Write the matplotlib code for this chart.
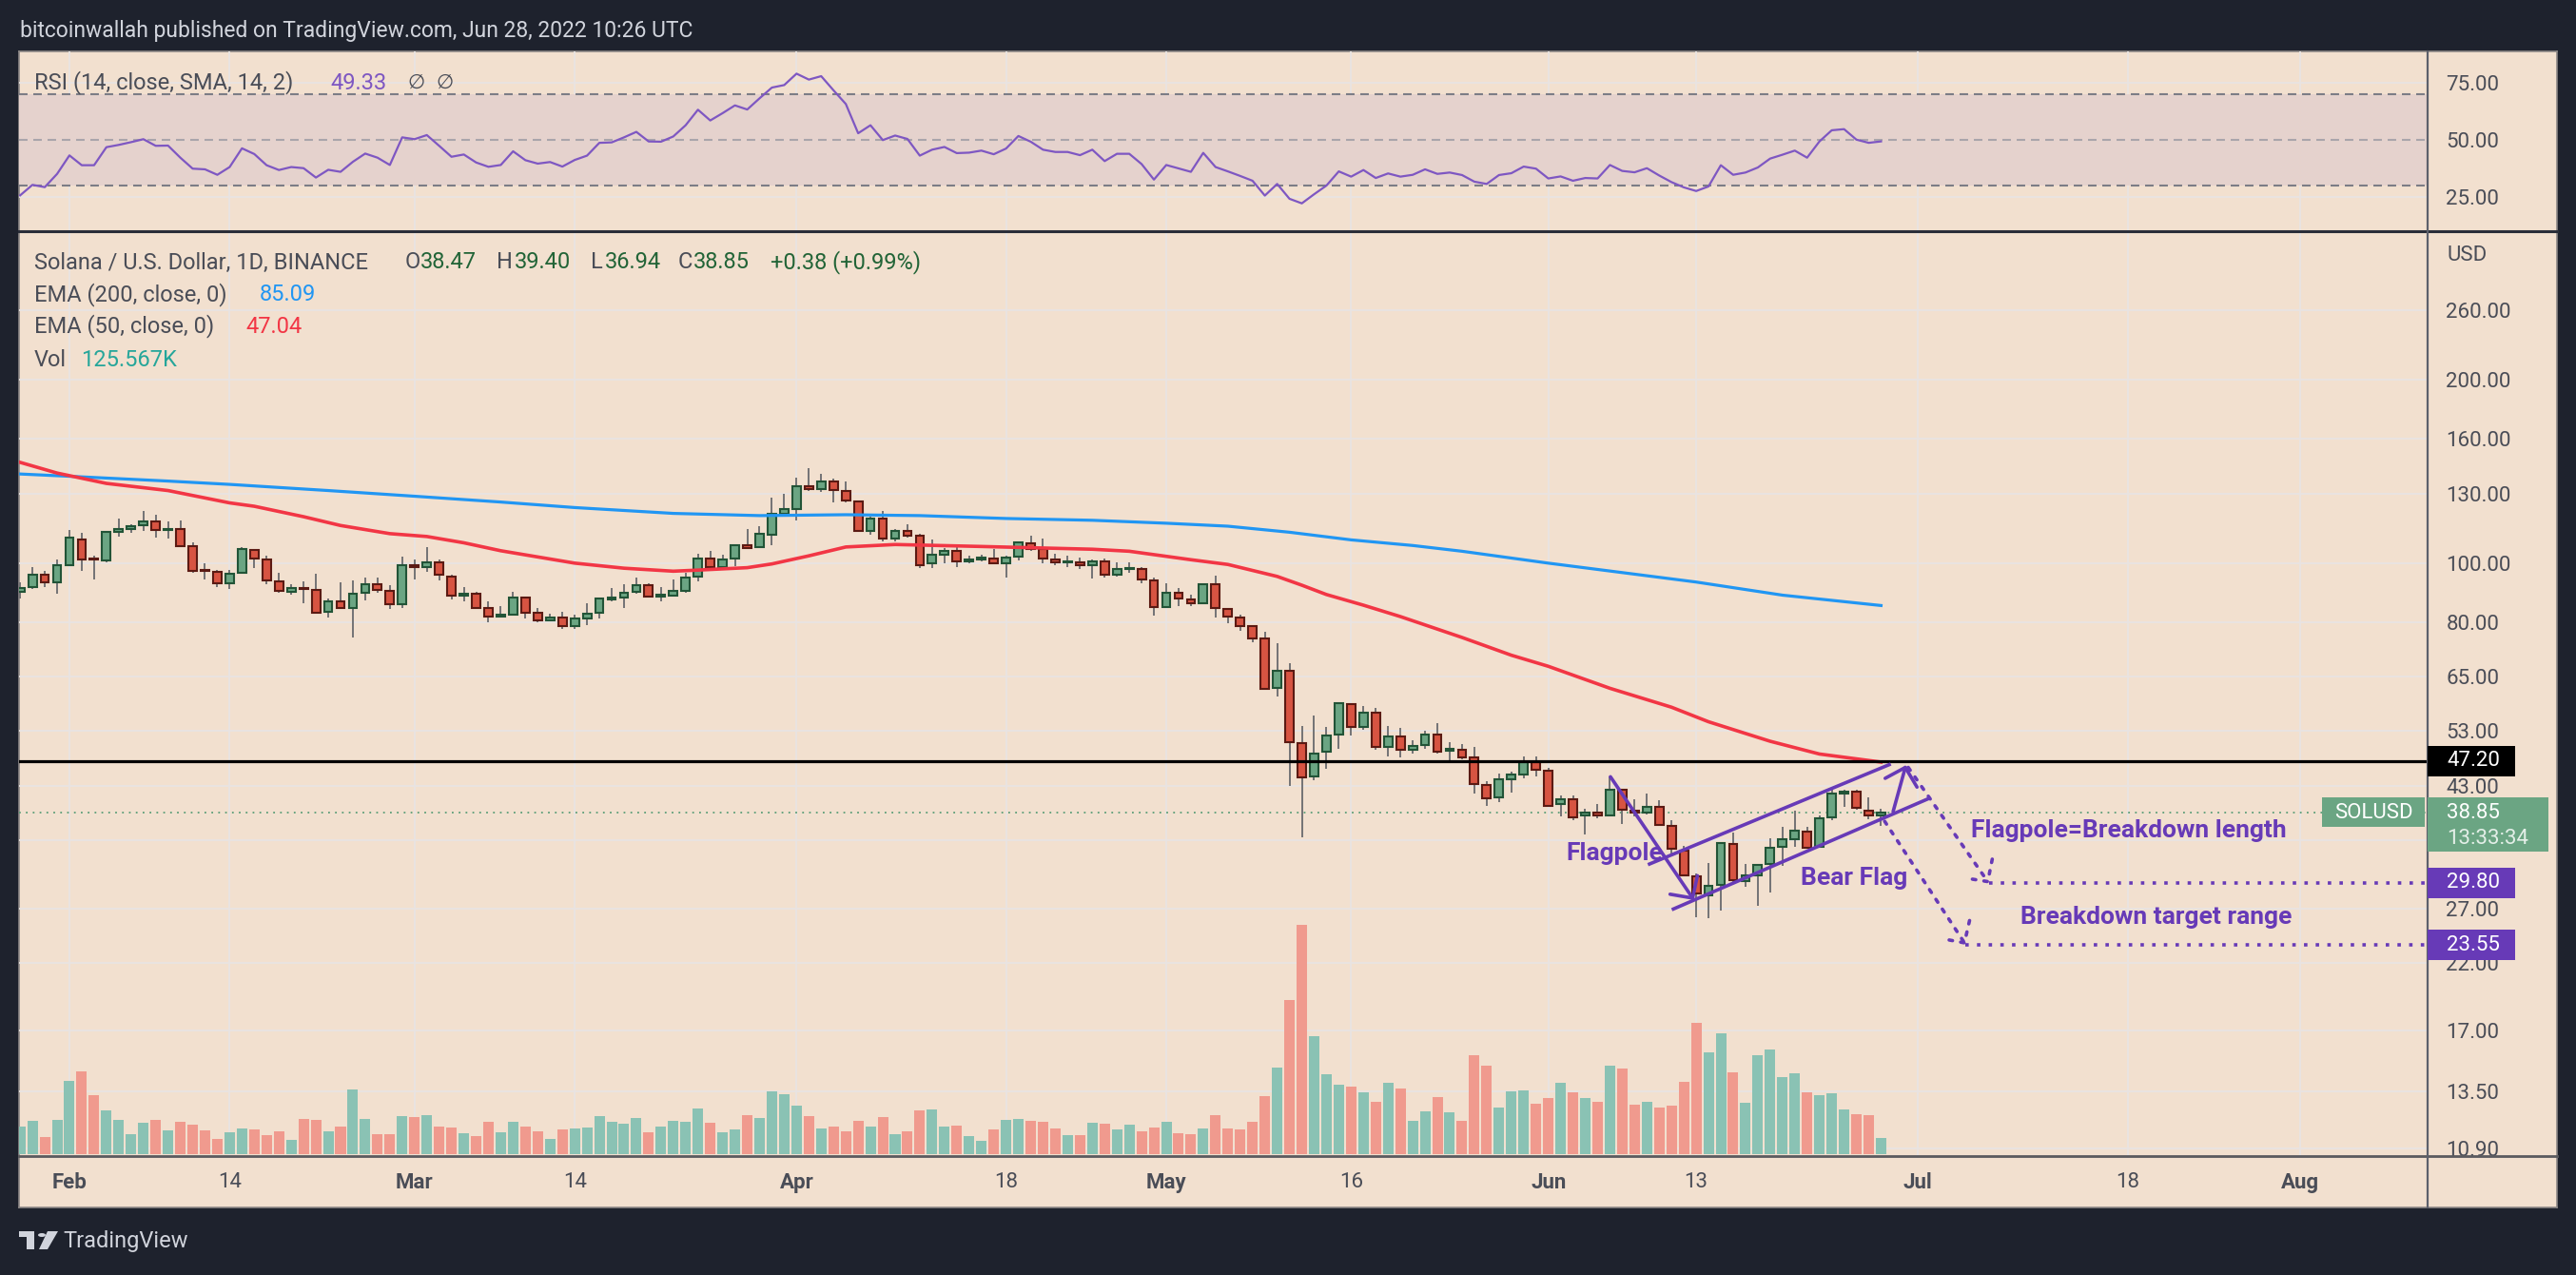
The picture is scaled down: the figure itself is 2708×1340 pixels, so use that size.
import numpy as np
import pandas as pd
import matplotlib
matplotlib.use('Agg')
import matplotlib.pyplot as plt
import matplotlib.dates as mdates
import matplotlib.transforms as mtransforms
from matplotlib.patches import Rectangle, Polygon, Circle
from matplotlib.lines import Line2D

plt.rcParams['font.family'] = ['Roboto', 'DejaVu Sans']

# ---------------- data (SOL/USD daily, Binance) ----------------
dates = pd.date_range('2022-01-28', '2022-06-28', freq='D')

opens = [
    89.5, 91.2, 95.7, 93.0,
    99.2, 109.3, 101.7, 101.0, 112.5, 113.7, 115.3, 117.2, 113.1, 113.5, 106.4, 97.3, 96.8, 92.7,
    96.2, 104.9, 101.4, 93.4, 89.5, 91.0, 90.4, 83.1, 86.3, 84.3, 89.3, 92.4, 90.1, 85.5,
    99.2, 98.3, 100.3, 95.0, 88.3, 89.1, 84.4, 81.6, 82.2, 87.8, 82.8, 80.5, 81.2, 78.7, 81.0, 82.8,
    87.2, 87.7, 89.5, 92.0, 88.0, 88.3, 90.1, 94.9, 101.7, 98.3, 101.6, 106.8, 106.0, 111.3, 120.4,
    122.6, 133.6, 132.2, 136.3, 131.5, 126.4, 112.9, 118.1, 109.7, 112.7, 110.7, 99.7, 103.2, 104.5, 100.5,
    101.2, 101.7, 99.7, 102.5, 107.7, 105.3, 101.4, 100.1, 100.1, 99.05, 100.7, 95.6, 97.6, 97.6, 93.5,
    84.6, 89.3, 87.2, 85.8, 92.2, 84.0, 81.3, 78.6, 75.2, 62.3, 66.4, 50.6, 44.5, 48.9, 52.2, 58.5,
    53.8, 56.7, 49.9, 51.9, 49.3, 50.1, 52.3, 49.1, 49.2, 47.8, 43.2, 41.2, 44.1, 44.8, 47.1,
    45.6, 40.1, 40.8, 38.4, 38.9, 38.4, 42.3, 39.1, 38.9, 39.7, 37.0, 33.7, 30.5, 28.45,
    29.5, 34.5, 30.0, 30.6, 32.0, 34.1, 35.1, 36.2, 34.1, 38.2, 41.8, 42.1, 39.2, 38.47,
]
highs = [
    93.0, 98.5, 97.1, 101.2,
    113.3, 112.1, 102.8, 112.5, 118.3, 115.8, 121.7, 120.0, 117.0, 117.4, 107.9, 99.9, 97.3, 97.5,
    106.0, 105.5, 102.7, 96.2, 92.4, 93.4, 95.9, 87.4, 93.0, 93.7, 94.7, 94.7, 92.0, 102.5,
    101.4, 106.0, 101.4, 95.6, 91.2, 89.7, 86.3, 84.8, 89.6, 88.1, 84.3, 82.5, 83.1, 82.2, 85.8, 87.6,
    90.9, 92.2, 94.5, 92.5, 91.2, 93.9, 96.2, 103.4, 104.7, 103.2, 107.4, 113.7, 115.1, 128.0, 129.8,
    138.0, 143.0, 140.2, 137.7, 136.0, 126.8, 119.3, 121.9, 113.5, 115.6, 111.7, 109.1, 105.8, 107.2, 102.7,
    103.2, 105.3, 102.7, 108.3, 110.9, 109.7, 103.4, 102.7, 101.9, 101.2, 101.6, 100.3, 100.3, 98.3, 94.7,
    92.7, 90.9, 88.5, 92.7, 95.2, 84.4, 82.3, 79.0, 77.1, 73.8, 68.4, 53.9, 56.1, 53.8, 59.1, 58.6,
    58.2, 57.7, 54.0, 53.6, 51.0, 53.0, 54.5, 50.8, 50.3, 49.8, 43.7, 45.0, 45.4, 48.1, 48.1,
    46.0, 41.5, 41.4, 39.4, 40.1, 44.5, 42.4, 40.9, 41.8, 40.7, 37.8, 34.2, 30.9, 32.1,
    34.7, 36.0, 32.0, 32.0, 35.3, 36.8, 39.1, 36.8, 38.5, 42.8, 42.4, 42.4, 41.2, 39.40,
]
lows = [
    87.4, 90.5, 91.4, 88.9,
    99.0, 97.1, 93.9, 100.3, 110.3, 111.9, 112.7, 109.9, 109.5, 106.4, 96.2, 93.9, 91.4, 90.7,
    96.1, 98.2, 92.2, 89.4, 88.8, 85.7, 82.6, 81.2, 84.2, 75.3, 86.9, 89.4, 84.1, 84.4,
    93.9, 96.8, 93.7, 87.2, 86.3, 84.3, 80.0, 81.5, 82.0, 80.9, 80.0, 80.4, 77.8, 78.0, 78.9, 80.9,
    86.6, 84.4, 88.9, 87.8, 86.6, 88.2, 89.4, 93.3, 97.1, 98.0, 98.9, 105.5, 106.0, 106.8, 120.2,
    117.6, 131.5, 130.6, 125.9, 125.7, 112.3, 111.1, 108.3, 108.3, 109.9, 98.2, 98.2, 99.9, 98.5, 99.7,
    100.7, 99.6, 94.7, 101.0, 104.5, 99.9, 99.2, 98.5, 97.8, 94.4, 94.7, 95.0, 96.4, 92.5, 82.0,
    84.3, 85.0, 84.8, 85.4, 81.3, 79.6, 77.2, 74.0, 62.0, 60.4, 43.0, 35.4, 43.9, 45.9, 49.5, 52.0,
    53.1, 49.3, 48.1, 47.8, 48.5, 49.5, 48.5, 47.0, 47.5, 41.8, 39.9, 40.4, 41.9, 44.2, 44.6,
    39.7, 38.3, 37.8, 35.8, 38.0, 38.3, 37.2, 38.3, 38.6, 37.0, 33.3, 30.5, 26.15, 26.05,
    26.8, 29.8, 29.3, 27.25, 28.75, 31.7, 34.1, 33.9, 34.0, 37.8, 39.7, 39.3, 37.9, 36.94,
]
closes = [
    91.0, 95.7, 93.0, 99.2,
    109.9, 101.4, 101.2, 112.3, 113.5, 114.9, 117.2, 113.3, 113.7, 106.6, 97.1, 96.9, 92.5, 96.1,
    105.5, 101.6, 93.5, 89.9, 91.0, 90.5, 82.8, 86.6, 84.3, 89.1, 92.4, 90.2, 85.5, 99.0,
    98.3, 100.3, 95.6, 88.3, 89.1, 84.4, 81.6, 82.2, 87.8, 82.8, 80.5, 81.2, 78.7, 80.9, 82.6, 87.5,
    87.8, 89.4, 92.0, 88.1, 88.5, 90.1, 94.7, 101.7, 98.3, 101.4, 106.8, 105.8, 111.5, 120.2, 122.4,
    133.8, 132.2, 136.3, 131.7, 126.6, 112.9, 118.1, 109.7, 112.7, 110.9, 99.2, 103.0, 104.5, 100.5, 101.2,
    101.9, 99.7, 101.9, 108.1, 105.5, 101.6, 100.1, 100.5, 99.05, 100.7, 95.6, 97.6, 98.2, 93.9, 84.6,
    89.3, 87.4, 85.8, 92.2, 84.3, 81.6, 78.7, 75.2, 62.1, 66.4, 50.8, 44.4, 48.5, 52.1, 58.7, 53.8,
    56.7, 49.8, 51.9, 49.2, 50.0, 52.3, 48.9, 49.5, 47.8, 43.3, 41.0, 44.1, 44.8, 47.1, 45.7,
    39.9, 40.8, 38.1, 38.9, 38.5, 42.3, 39.3, 38.8, 39.7, 37.1, 33.9, 30.6, 28.6, 29.4,
    34.6, 30.1, 30.6, 31.9, 34.0, 35.1, 36.3, 34.0, 38.0, 41.8, 42.1, 39.5, 38.5, 38.85,
]
# volume in thousands
volumes = [
    216, 261, 133, 269,
    583, 659, 469, 348, 269, 155, 246, 269, 186, 254, 231, 186, 117, 170,
    201, 193, 148, 178, 110, 276, 269, 178, 216, 515, 276, 155, 155, 299,
    292, 307, 216, 208, 163, 140, 254, 170, 254, 216, 178, 117, 193, 201, 208, 299,
    254, 239, 284, 170, 216, 261, 254, 363, 246, 170, 193, 307, 284, 500, 477,
    386, 299, 201, 216, 178, 261, 216, 292, 155, 178, 348, 356, 216, 223, 140,
    102, 193, 269, 276, 261, 254, 201, 148, 148, 246, 239, 193, 231, 178, 208,
    254, 163, 155, 201, 307, 201, 193, 254, 462, 689, 1230, 1832, 939, 636, 553, 538,
    492, 416, 568, 522, 261, 341, 454, 333, 261, 787, 704, 371, 500, 507, 401,
    447, 568, 492, 447, 416, 704, 681, 394, 416, 371, 386, 575, 1045, 810,
    962, 651, 409, 787, 833, 613, 644, 492, 469, 485, 356, 318, 307, 125.567,
]
rsi = [
    25.7, 30.3, 29.3, 35.1, 43.2, 38.9, 38.9, 46.8, 47.8, 49.0,
    50.3, 47.4, 47.5, 42.2, 37.4, 37.1, 34.7, 38.1, 46.3, 43.8,
    38.9, 36.8, 38.1, 37.6, 33.5, 36.9, 36.0, 40.4, 44.0, 42.2,
    39.0, 51.1, 50.3, 52.1, 47.4, 42.6, 43.6, 40.1, 38.2, 39.0,
    45.0, 41.1, 39.6, 40.3, 38.3, 41.2, 43.1, 48.7, 48.9, 51.1,
    53.5, 49.3, 49.2, 51.5, 56.4, 63.2, 58.5, 61.7, 65.1, 63.3,
    68.2, 72.9, 74.0, 79.0, 76.4, 77.9, 71.7, 65.7, 52.9, 56.4,
    49.9, 51.9, 50.4, 43.1, 45.7, 46.9, 44.2, 44.4, 45.3, 43.7,
    46.2, 51.7, 49.2, 45.7, 44.7, 44.7, 43.3, 45.7, 40.7, 43.9,
    43.9, 39.4, 32.6, 39.0, 37.5, 36.0, 44.3, 38.1, 36.2, 34.2,
    32.1, 25.6, 30.7, 24.2, 22.2, 26.2, 30.0, 36.2, 33.9, 36.8,
    33.3, 35.3, 33.9, 34.7, 37.1, 35.1, 35.7, 34.6, 31.7, 30.7,
    34.6, 35.4, 38.3, 37.4, 33.1, 34.0, 32.1, 33.3, 33.1, 39.0,
    36.4, 35.8, 37.6, 34.4, 31.5, 29.2, 27.6, 29.6, 38.9, 34.7,
    35.7, 37.9, 41.8, 43.5, 45.3, 42.2, 49.3, 54.2, 54.7, 50.1,
    48.7, 49.33,
]
ema200_dates = ['2022-01-28', '2022-02-01', '2022-02-09', '2022-02-14', '2022-02-22', '2022-03-01',
                '2022-03-08', '2022-03-14', '2022-03-22', '2022-03-29', '2022-04-05', '2022-04-11',
                '2022-04-18', '2022-04-25', '2022-05-01', '2022-05-06', '2022-05-11', '2022-05-16',
                '2022-05-21', '2022-05-25', '2022-06-01', '2022-06-13', '2022-06-20', '2022-06-28']
ema200 = [140.0, 138.8, 136.3, 134.6, 131.5, 128.7, 125.9, 123.3, 120.6, 119.6, 120.0, 119.6,
          118.3, 117.5, 116.2, 114.9, 112.3, 109.1, 106.8, 104.5, 99.9, 93.0, 88.5, 85.09]
ema50_dates = ['2022-01-28', '2022-01-31', '2022-02-04', '2022-02-09', '2022-02-14', '2022-02-16',
               '2022-02-20', '2022-02-23', '2022-02-27', '2022-03-02', '2022-03-05', '2022-03-08',
               '2022-03-14', '2022-03-18', '2022-03-22', '2022-03-24', '2022-03-28', '2022-03-30',
               '2022-04-02', '2022-04-05', '2022-04-09', '2022-04-16', '2022-04-25', '2022-04-28',
               '2022-05-03', '2022-05-06', '2022-05-10', '2022-05-12', '2022-05-14', '2022-05-17',
               '2022-05-20', '2022-05-25', '2022-05-29', '2022-06-01', '2022-06-06', '2022-06-11',
               '2022-06-14', '2022-06-19', '2022-06-23', '2022-06-28']
ema50 = [146.3, 140.5, 135.1, 131.5, 125.5, 123.9, 119.1, 115.2, 111.7, 110.5, 107.9, 104.7,
         99.9, 98.0, 96.9, 97.3, 98.2, 99.6, 102.7, 106.2, 107.2, 106.4, 105.3, 104.5,
         101.2, 99.4, 95.0, 91.9, 88.7, 85.2, 81.6, 75.4, 70.5, 67.6, 62.2, 57.9,
         54.8, 50.9, 48.5, 47.04]

price_ticks = [260, 200, 160, 130, 100, 80, 65, 53, 43, 35, 27, 22, 17, 13.5, 10.9]
hidden_ticks = [35]          # label sits under the live price tag
rsi_ticks = [25, 50, 75]
x_tick_dates = ['2022-02-01', '2022-02-14', '2022-03-01', '2022-03-14', '2022-04-01', '2022-04-18',
                '2022-05-01', '2022-05-16', '2022-06-01', '2022-06-13', '2022-07-01', '2022-07-18',
                '2022-08-01']
x_labels = ['Feb', '14', 'Mar', '14', 'Apr', '18', 'May', '16', 'Jun', '13', 'Jul', '18', 'Aug']

resistance = 47.20
last_price = 38.85
target_hi = 29.80
target_lo = 23.55

# chart drawings: (dates, prices)
flagpole = (['2022-06-06 01:00', '2022-06-12 19:40'], [44.5, 27.9])
flag_upper = (['2022-06-09 02:00', '2022-06-28 19:00'], [31.9, 46.7])
flag_lower = (['2022-06-11 00:30', '2022-07-02 00:30'], [26.9, 41.1])
flag_arrow = (['2022-06-28 23:30', '2022-06-30 00:30'], [39.0, 46.5])
move_hi = (['2022-06-30 05:00', '2022-07-06 18:30'], [46.1, 29.7])
move_lo = (['2022-06-28 07:00', '2022-07-04 21:00'], [37.6, 23.55])
labels_txt = ['Flagpole', 'Bear Flag', 'Flagpole=Breakdown length', 'Breakdown target range']
labels_at = (['2022-06-02 10:00', '2022-06-21 12:00', '2022-07-05 07:00', '2022-07-09 07:00'],
             [33.3, 30.3, 36.3, 26.1])

# ---------------- style ----------------
BG = '#f2e0cf'
DARK = '#1e222d'
GRID = '#e9e4e2'
TXT = '#4a4d57'
PURPLE = '#673ab7'
UP_FILL, UP_EDGE = '#6ba583', '#225437'
DN_FILL, DN_EDGE = '#d75442', '#5b1a13'
WICK = '#737375'
VOL_UP, VOL_DN = '#8ac2b4', '#f09a8e'

W, H = 2708, 1340
fig = plt.figure(figsize=(W / 100, H / 100), dpi=100, facecolor=DARK)


def rect(x0, y0, x1, y1):
    return [x0 / W, 1 - y1 / H, (x1 - x0) / W, (y1 - y0) / H]


def ftext(x, y, s, **kw):
    kw.setdefault('va', 'center')
    kw.setdefault('fontsize', 17)
    kw.setdefault('color', TXT)
    return fig.text(x / W, 1 - y / H, s, **kw)


def hline_px(x0, x1, y, **kw):
    fig.add_artist(Line2D([x0 / W, x1 / W], [1 - y / H, 1 - y / H], transform=fig.transFigure, **kw))


panel = fig.add_axes(rect(20, 54, 2688, 1269))
panel.set_facecolor(BG)
panel.set_xticks([])
panel.set_yticks([])
for s in panel.spines.values():
    s.set_color('#8c8886')
    s.set_linewidth(1.2)

ax_rsi = fig.add_axes(rect(20, 54, 2552, 243))
ax_vol = fig.add_axes(rect(20, 243, 2552, 1215))
ax_main = fig.add_axes(rect(20, 243, 2552, 1215))
for ax in (ax_rsi, ax_vol, ax_main):
    ax.set_facecolor('none')
    for s in ax.spines.values():
        s.set_visible(False)

x = mdates.date2num(dates)
xt = mdates.date2num(pd.to_datetime(x_tick_dates))
base = mdates.date2num(pd.Timestamp('2022-02-01'))
xlim = (base - 4.09, base + 191.35)

o, hi, lo, c = (np.array(v, dtype=float) for v in (opens, highs, lows, closes))
up = c >= o

# ---- main pane ----
ax_main.set_yscale('log')
ax_main.set_ylim(10.585, 351.0)

# grid under the volume bars
blend = mtransforms.blended_transform_factory(ax_vol.transAxes, ax_main.transData)
for p in price_ticks:
    ax_vol.plot([0, 1], [p, p], transform=blend, color=GRID, lw=1.3, zorder=0)
for t in xt:
    ax_vol.axvline(t, color=GRID, lw=1.3, zorder=0)
    ax_rsi.axvline(t, color=GRID, lw=1.3, zorder=0)

ax_vol.bar(x, volumes, width=0.85, color=np.where(up, VOL_UP, VOL_DN), zorder=2)
ax_vol.set_ylim(-18.3, 7377)
ax_vol.set_xlim(*xlim)
ax_vol.set_xticks([])
ax_vol.set_yticks([])

ax_main.vlines(x, lo, hi, color=WICK, lw=1.4, zorder=3)
b_lo = np.minimum(o, c)
b_hi = np.maximum(o, c)
ax_main.bar(x, b_hi - b_lo, bottom=b_lo, width=0.68,
            color=np.where(up, UP_FILL, DN_FILL), edgecolor=np.where(up, UP_EDGE, DN_EDGE),
            linewidth=1.5, zorder=4)

ax_main.plot(mdates.date2num(pd.to_datetime(ema200_dates)), ema200, color='#2196f3', lw=2.3, zorder=5)
ax_main.plot(mdates.date2num(pd.to_datetime(ema50_dates)), ema50, color='#f23645', lw=2.6, zorder=5)

ax_main.axhline(resistance, color='black', lw=2.3, zorder=6)
ax_main.axhline(last_price, color='#5c9e78', lw=1.3, ls=(0, (1, 3)), zorder=2)


# drawings
def dnum(lst):
    return mdates.date2num(pd.to_datetime(lst))


dot = (0, (1, 2.4))
for seg in (flag_upper, flag_lower):
    ax_main.plot(dnum(seg[0]), seg[1], color=PURPLE, lw=2.6, solid_capstyle='butt', zorder=7)

head = '->,head_length=1.2,head_width=1.25'
for seg, ls in ((flagpole, '-'), (flag_arrow, '-'), (move_hi, dot), (move_lo, dot)):
    xs = dnum(seg[0])
    ax_main.annotate('', xy=(xs[1], seg[1][1]), xytext=(xs[0], seg[1][0]),
                     arrowprops=dict(arrowstyle=head, color=PURPLE, lw=2.6, linestyle=ls,
                                     shrinkA=0, shrinkB=0, mutation_scale=10),
                     zorder=7)

tip_hi = dnum(move_hi[0])[1]
tip_lo = dnum(move_lo[0])[1]
ax_main.hlines(target_hi, tip_hi, xlim[1], color=PURPLE, lw=2.6, linestyle=dot, zorder=7)
ax_main.hlines(target_lo, tip_lo, xlim[1], color=PURPLE, lw=2.6, linestyle=dot, zorder=7)

for s, t, p in zip(labels_txt, dnum(labels_at[0]), labels_at[1]):
    ax_main.text(t, p, s, color=PURPLE, fontsize=19, fontweight='bold', ha='left', va='center', zorder=8)

ax_main.set_xlim(*xlim)
ax_main.set_yticks(price_ticks, labels=['' if p in hidden_ticks else f'{p:.2f}' for p in price_ticks])
ax_main.set_yticks([], minor=True)
ax_main.yaxis.tick_right()
ax_main.tick_params(axis='y', length=0, pad=14, labelsize=16, labelcolor=TXT)
ax_main.set_xticks(xt, labels=x_labels)
ax_main.tick_params(axis='x', length=0, pad=12, labelsize=16, labelcolor=TXT)
for lab, s in zip(ax_main.get_xticklabels(), x_labels):
    if not s.isdigit():
        lab.set_fontweight('bold')

# ---- RSI pane ----
ax_rsi.set_xlim(*xlim)
ax_rsi.set_ylim(10, 88.75)
for v in rsi_ticks:
    ax_rsi.axhline(v, color=GRID, lw=1.3, zorder=0)
ax_rsi.axhspan(30, 70, color='#e5d2cd', zorder=0.5, lw=0)
ax_rsi.axhline(70, color='#7c7d86', lw=1.5, ls=(0, (4.3, 2.9)), zorder=1)
ax_rsi.axhline(30, color='#7c7d86', lw=1.5, ls=(0, (4.3, 2.9)), zorder=1)
ax_rsi.axhline(50, color='#a9a5ab', lw=1.5, ls=(0, (4.3, 2.9)), zorder=1)
ax_rsi.plot(x, rsi, color='#7e57c2', lw=1.6, zorder=3)
ax_rsi.set_xticks([])
ax_rsi.set_yticks(rsi_ticks, labels=[f'{v:.2f}' for v in rsi_ticks])
ax_rsi.yaxis.tick_right()
ax_rsi.tick_params(axis='y', length=0, pad=14, labelsize=16, labelcolor=TXT)

# ---- separators ----
hline_px(20, 2688, 243, color='#2a2e39', lw=2.2, zorder=9)
hline_px(20, 2688, 1215, color='#5a5a5e', lw=2.0, zorder=9)
fig.add_artist(Line2D([2552 / W, 2552 / W], [1 - 1269 / H, 1 - 54 / H], transform=fig.transFigure,
                      color='#5d606b', lw=1.6, zorder=9))


# ---- price tags on the scale ----
def ypx(price):
    return ax_main.transData.transform((xlim[0], price))[1]


def tag(price, label, fc, x0=2552, x1=2644, below=16, above=16, text_x=2572, ha='left'):
    y = ypx(price)
    fig.add_artist(Rectangle((x0 / W, (y - below) / H), (x1 - x0) / W, (below + above) / H,
                             transform=fig.transFigure, fc=fc, ec='none', zorder=10))
    fig.text(text_x / W, y / H, label, color='white', fontsize=16, va='center', ha=ha, zorder=11)


tag(resistance, f'{resistance:.2f}', 'black')
tag(target_hi, f'{target_hi:.2f}', PURPLE)
tag(target_lo, f'{target_lo:.2f}', PURPLE)
tag(last_price, f'{last_price:.2f}', '#6ba583', x1=2679, below=41, above=16)
fig.text(2572 / W, (ypx(last_price) - 27) / H, '13:33:34', color='#e4efe8', fontsize=16, va='center', zorder=11)
tag(last_price, 'SOLUSD', '#6ba583', x0=2441, x1=2549, below=15, above=16, text_x=2495, ha='center')

# ---- legends / headers ----
ftext(21, 32, 'bitcoinwallah published on TradingView.com, Jun 28, 2022 10:26 UTC', color='#d1d4dc', fontsize=16.5)
ftext(36, 87, 'RSI (14, close, SMA, 14, 2)')
ftext(347, 87, '49.33', color='#7e57c2')
ftext(428, 87, '∅', family=['DejaVu Sans'], fontsize=15)
ftext(458, 87, '∅', family=['DejaVu Sans'], fontsize=15)

ftext(36, 276, 'Solana / U.S. Dollar, 1D, BINANCE')
GREEN_T = '#226437'
for lx, vx, key, val in ((426, 442, 'O', '38.47'), (522, 541, 'H', '39.40'),
                         (621, 636, 'L', '36.94'), (713, 729, 'C', '38.85')):
    ftext(lx, 276, key)
    ftext(vx, 276, val, color=GREEN_T)
ftext(810, 276, '+0.38 (+0.99%)', color=GREEN_T)
ftext(36, 310, 'EMA (200, close, 0)')
ftext(273, 310, '85.09', color='#2196f3')
ftext(36, 343, 'EMA (50, close, 0)')
ftext(258, 343, '47.04', color='#f23645')
ftext(36, 378, 'Vol')
ftext(85, 378, '125.567K', color='#26a69a')
ftext(2572, 269, 'USD', fontsize=16)

# ---- TradingView logo ----
LOGO = '#d1d4dc'
fig.add_artist(Rectangle((20 / W, 1 - 1300 / H), 16 / W, 6 / H, transform=fig.transFigure, fc=LOGO, ec='none'))
fig.add_artist(Rectangle((28 / W, 1 - 1313 / H), 8 / W, 19 / H, transform=fig.transFigure, fc=LOGO, ec='none'))
fig.add_artist(Circle((44 / W, 1 - 1298 / H), 4 / W, transform=fig.transFigure, fc=LOGO, ec='none'))
fig.add_artist(Polygon([(50 / W, 1 - 1294 / H), (61 / W, 1 - 1294 / H), (50 / W, 1 - 1313 / H), (41 / W, 1 - 1313 / H)],
                       closed=True, transform=fig.transFigure, fc=LOGO, ec='none'))
ftext(66, 1305, 'TradingView', color=LOGO, fontsize=17)

fig.savefig('out.png', dpi=100, facecolor=DARK)
